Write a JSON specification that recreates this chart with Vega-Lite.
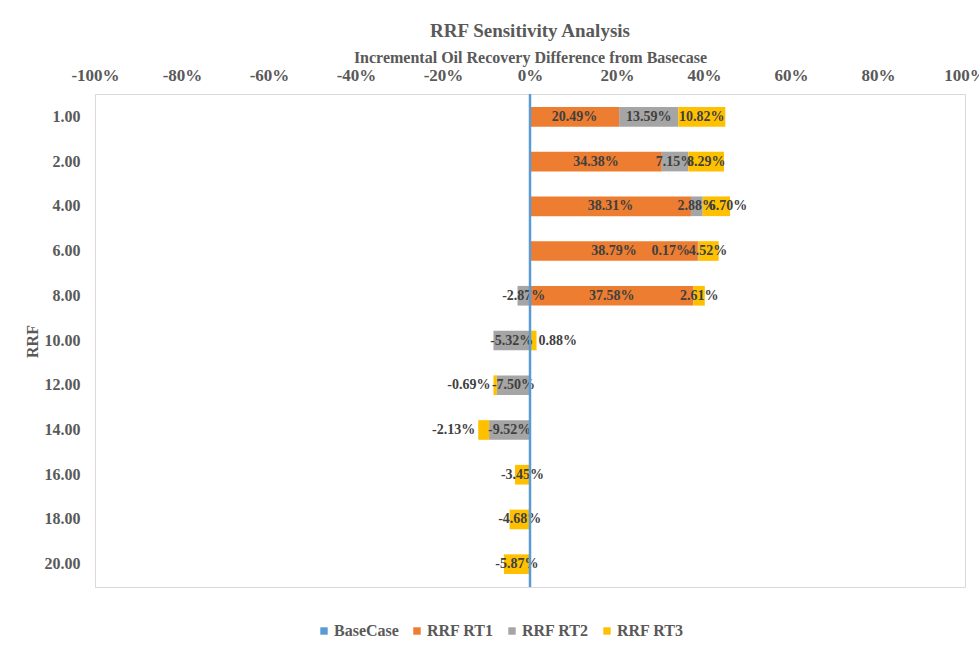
{
  "$schema": "https://vega.github.io/schema/vega-lite/v6.json",
  "width": 870,
  "height": 493,
  "autosize": "none",
  "padding": {"left": 95, "top": 94, "right": 14, "bottom": 61},
  "background": "white",
  "config": {
    "view": {"stroke": "#D9D9D9", "strokeWidth": 1},
    "font": "Liberation Serif"
  },
  "title": {
    "text": "RRF Sensitivity Analysis",
    "font": "Liberation Serif",
    "fontSize": 19,
    "fontWeight": "bold",
    "color": "#595959",
    "anchor": "middle",
    "offset": 8
  },
  "data": {
    "values": [
      {"rrf": "1.00", "series": "RRF RT1", "order": 1, "value": 20.49, "label": "20.49%"},
      {"rrf": "1.00", "series": "RRF RT2", "order": 2, "value": 13.59, "label": "13.59%"},
      {"rrf": "1.00", "series": "RRF RT3", "order": 3, "value": 10.82, "label": "10.82%"},
      {"rrf": "2.00", "series": "RRF RT1", "order": 1, "value": 30.3, "label": "34.38%"},
      {"rrf": "2.00", "series": "RRF RT2", "order": 2, "value": 6.1, "label": "7.15%"},
      {"rrf": "2.00", "series": "RRF RT3", "order": 3, "value": 8.2, "label": "8.29%"},
      {"rrf": "4.00", "series": "RRF RT1", "order": 1, "value": 37.0, "label": "38.31%"},
      {"rrf": "4.00", "series": "RRF RT2", "order": 2, "value": 2.7, "label": "2.88%"},
      {"rrf": "4.00", "series": "RRF RT3", "order": 3, "value": 6.3, "label": "6.70%"},
      {"rrf": "6.00", "series": "RRF RT1", "order": 1, "value": 38.6, "label": "38.79%"},
      {"rrf": "6.00", "series": "RRF RT2", "order": 2, "value": 0.17, "label": "0.17%"},
      {"rrf": "6.00", "series": "RRF RT3", "order": 3, "value": 4.6, "label": "4.52%"},
      {"rrf": "8.00", "series": "RRF RT1", "order": 1, "value": 37.58, "label": "37.58%"},
      {"rrf": "8.00", "series": "RRF RT2", "order": 2, "value": -2.87, "label": "-2.87%"},
      {"rrf": "8.00", "series": "RRF RT3", "order": 3, "value": 2.61, "label": "2.61%"},
      {"rrf": "10.00", "series": "RRF RT2", "order": 2, "value": -8.4, "label": "-5.32%"},
      {"rrf": "10.00", "series": "RRF RT3", "order": 3, "value": 1.5, "label": "0.88%"},
      {"rrf": "12.00", "series": "RRF RT2", "order": 2, "value": -7.6, "label": "-7.50%"},
      {"rrf": "12.00", "series": "RRF RT3", "order": 3, "value": -0.8, "label": "-0.69%"},
      {"rrf": "14.00", "series": "RRF RT2", "order": 2, "value": -9.4, "label": "-9.52%"},
      {"rrf": "14.00", "series": "RRF RT3", "order": 3, "value": -2.5, "label": "-2.13%"},
      {"rrf": "16.00", "series": "RRF RT3", "order": 3, "value": -3.45, "label": "-3.45%"},
      {"rrf": "18.00", "series": "RRF RT3", "order": 3, "value": -4.7, "label": "-4.68%"},
      {"rrf": "20.00", "series": "RRF RT3", "order": 3, "value": -6.0, "label": "-5.87%"}
    ]
  },
  "layer": [
    {
      "mark": {"type": "bar"},
      "encoding": {
        "y": {
          "field": "rrf", "type": "ordinal",
          "sort": ["1.00","2.00","4.00","6.00","8.00","10.00","12.00","14.00","16.00","18.00","20.00"],
          "scale": {"paddingInner": 0.56, "paddingOuter": 0.29},
          "axis": {
            "domain": false, "ticks": false, "grid": false,
            "labelFont": "Liberation Serif", "labelFontSize": 16, "labelFontWeight": "bold", "labelColor": "#595959",
            "labelPadding": 15,
            "title": "RRF", "titleFont": "Liberation Serif", "titleFontSize": 16, "titleFontWeight": "bold", "titleColor": "#595959",
            "titleAngle": -90, "titleX": -63, "titleY": 247, "titleAlign": "center", "titleBaseline": "middle"
          }
        },
        "x": {
          "field": "value", "type": "quantitative", "stack": "zero",
          "scale": {"domain": [-100, 100], "nice": false},
          "axis": {
            "orient": "top", "domain": false, "ticks": false, "tickSize": 0, "grid": false,
            "values": [-100,-80,-60,-40,-20,0,20,40,60,80,100],
            "labelExpr": "datum.value + '%'",
            "labelFont": "Liberation Serif", "labelFontSize": 17, "labelFontWeight": "bold", "labelColor": "#595959",
            "labelPadding": 10, "labelFlush": false, "labelOverlap": false,
            "title": "Incremental Oil Recovery Difference from Basecase",
            "titleFont": "Liberation Serif", "titleFontSize": 16, "titleFontWeight": "bold", "titleColor": "#595959",
            "titlePadding": 1
          }
        },
        "color": {
          "field": "series", "type": "nominal",
          "scale": {"domain": ["BaseCase","RRF RT1","RRF RT2","RRF RT3"], "range": ["#5B9BD5","#ED7D31","#A5A5A5","#FFC000"]},
          "legend": {
            "orient": "none", "legendX": 221, "legendY": 529, "direction": "horizontal", "title": null,
            "symbolType": "square", "symbolSize": 55, "symbolStrokeWidth": 0,
            "labelFont": "Liberation Serif", "labelFontSize": 16, "labelFontWeight": "bold", "labelColor": "#595959",
            "labelOffset": 2, "columnPadding": 10
          }
        },
        "order": {"field": "order", "type": "quantitative"}
      }
    },
    {
      "transform": [{"filter": "!((datum.series === 'RRF RT3' && (datum.rrf === '4.00' || datum.rrf === '10.00' || datum.rrf === '12.00' || datum.rrf === '14.00')) || (datum.series === 'RRF RT2' && datum.rrf === '6.00'))"}],
      "mark": {"type": "text", "font": "Liberation Serif", "fontSize": 14, "fontWeight": "bold", "color": "#404040"},
      "encoding": {
        "y": {"field": "rrf", "type": "ordinal", "sort": ["1.00","2.00","4.00","6.00","8.00","10.00","12.00","14.00","16.00","18.00","20.00"]},
        "x": {"field": "value", "type": "quantitative", "stack": "zero", "bandPosition": 0.5},
        "detail": {"field": "series"},
        "order": {"field": "order", "type": "quantitative"},
        "text": {"field": "label"}
      }
    },
    {
      "transform": [
        {"stack": "value", "groupby": ["rrf"], "sort": [{"field": "order", "order": "ascending"}], "as": ["s0", "s1"]},
        {"filter": "datum.series === 'RRF RT3' && datum.rrf === '10.00'"}
      ],
      "mark": {"type": "text", "font": "Liberation Serif", "fontSize": 14, "fontWeight": "bold", "color": "#404040", "align": "left", "dx": 2},
      "encoding": {
        "y": {"field": "rrf", "type": "ordinal", "sort": ["1.00","2.00","4.00","6.00","8.00","10.00","12.00","14.00","16.00","18.00","20.00"]},
        "x": {"field": "s1", "type": "quantitative", "stack": null},
        "text": {"field": "label"}
      }
    },
    {
      "transform": [
        {"stack": "value", "groupby": ["rrf"], "sort": [{"field": "order", "order": "ascending"}], "as": ["s0", "s1"]},
        {"filter": "datum.series === 'RRF RT3' && (datum.rrf === '12.00' || datum.rrf === '14.00')"}
      ],
      "mark": {"type": "text", "font": "Liberation Serif", "fontSize": 14, "fontWeight": "bold", "color": "#404040", "align": "right", "dx": -3},
      "encoding": {
        "y": {"field": "rrf", "type": "ordinal", "sort": ["1.00","2.00","4.00","6.00","8.00","10.00","12.00","14.00","16.00","18.00","20.00"]},
        "x": {"field": "s1", "type": "quantitative", "stack": null},
        "text": {"field": "label"}
      }
    },
    {
      "transform": [
        {"stack": "value", "groupby": ["rrf"], "sort": [{"field": "order", "order": "ascending"}], "as": ["s0", "s1"]},
        {"filter": "datum.series === 'RRF RT3' && datum.rrf === '4.00'"}
      ],
      "mark": {"type": "text", "font": "Liberation Serif", "fontSize": 14, "fontWeight": "bold", "color": "#404040", "align": "center", "dx": -2},
      "encoding": {
        "y": {"field": "rrf", "type": "ordinal", "sort": ["1.00","2.00","4.00","6.00","8.00","10.00","12.00","14.00","16.00","18.00","20.00"]},
        "x": {"field": "s1", "type": "quantitative", "stack": null},
        "text": {"field": "label"}
      }
    },
    {
      "transform": [
        {"stack": "value", "groupby": ["rrf"], "sort": [{"field": "order", "order": "ascending"}], "as": ["s0", "s1"]},
        {"filter": "datum.series === 'RRF RT2' && datum.rrf === '6.00'"}
      ],
      "mark": {"type": "text", "font": "Liberation Serif", "fontSize": 14, "fontWeight": "bold", "color": "#404040", "align": "center", "dx": -28},
      "encoding": {
        "y": {"field": "rrf", "type": "ordinal", "sort": ["1.00","2.00","4.00","6.00","8.00","10.00","12.00","14.00","16.00","18.00","20.00"]},
        "x": {"field": "s1", "type": "quantitative", "stack": null},
        "text": {"field": "label"}
      }
    },
    {
      "data": {"values": [{"series": "BaseCase", "value": 0}]},
      "mark": {"type": "rule", "strokeWidth": 2.5},
      "encoding": {
        "x": {"field": "value", "type": "quantitative"},
        "color": {"field": "series", "type": "nominal"}
      }
    }
  ]
}
